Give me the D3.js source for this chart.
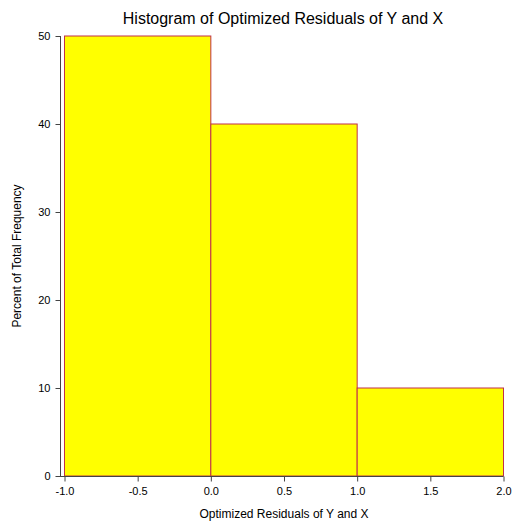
<!DOCTYPE html>
<html>
<head>
<meta charset="utf-8">
<script src="https://cdn.jsdelivr.net/npm/d3@7"></script>
<style>
  body { margin: 0; background: #fff; }
  text { font-family: "Liberation Sans", Arial, sans-serif; fill: #000; }
</style>
</head>
<body>
<div id="vis"></div>
<script>
// bins of the residuals and their percent of total frequency
var binStarts = [-1.0, 0.0, 1.0];
var binEnds = [0.0, 1.0, 2.0];
var percents = [50, 40, 10];
var xTicks = [-1.0, -0.5, 0.0, 0.5, 1.0, 1.5, 2.0];
var yTicks = [0, 10, 20, 30, 40, 50];

var width = 512, height = 523;
var plotLeft = 64.5, plotRight = 503.5, plotTop = 36, plotBottom = 476;

var svg = d3.select('#vis').append('svg')
    .attr('width', width)
    .attr('height', height);

var x = d3.scaleLinear().domain([-1, 2]).range([plotLeft, plotRight]);
var y = d3.scaleLinear().domain([0, 50]).range([plotBottom, plotTop]);

var bins = binStarts.map(function (d, i) {
    return { x0: d, x1: binEnds[i], pct: percents[i] };
});

svg.selectAll('.bar')
    .data(bins)
    .enter().append('rect')
    .attr('class', 'bar')
    .attr('x', function (d) { return x(d.x0); })
    .attr('y', function (d) { return y(d.pct); })
    .attr('width', function (d) { return x(d.x1) - x(d.x0); })
    .attr('height', function (d) { return y(0) - y(d.pct); })
    .attr('fill', '#ffff00')
    .attr('stroke', '#c0304a')
    .attr('stroke-width', 1);

// y axis
var yAxis = svg.append('g')
    .attr('transform', 'translate(60.5,0)')
    .call(d3.axisLeft(y).tickValues(yTicks).tickSize(5).tickPadding(5));

// x axis, labels with a plain hyphen like the original
var fmt = d3.format('.1f');
var xAxis = svg.append('g')
    .attr('transform', 'translate(0,' + (plotBottom + 0.5) + ')')
    .call(d3.axisBottom(x).tickValues(xTicks).tickSize(5).tickPadding(6)
        .tickFormat(function (d) { return fmt(d).replace('\u2212', '-'); }));

xAxis.select('.domain').attr('d', 'M60,0H' + plotRight);

[yAxis, xAxis].forEach(function (g) {
    g.selectAll('path, line').attr('stroke', '#444');
    g.selectAll('text')
        .style('font-family', '"Liberation Sans", Arial, sans-serif')
        .style('font-size', '11px')
        .attr('fill', '#000');
});
yAxis.select('.domain').attr('d', 'M0,' + plotTop + 'V' + (plotBottom + 0.5));

svg.append('text')
    .attr('x', 283)
    .attr('y', 24)
    .attr('text-anchor', 'middle')
    .style('font-size', '16px')
    .text('Histogram of Optimized Residuals of Y and X');

svg.append('text')
    .attr('x', 284)
    .attr('y', 518)
    .attr('text-anchor', 'middle')
    .style('font-size', '12px')
    .text('Optimized Residuals of Y and X');

svg.append('text')
    .attr('transform', 'translate(21,' + ((plotTop + plotBottom) / 2) + ') rotate(-90)')
    .attr('text-anchor', 'middle')
    .style('font-size', '12px')
    .text('Percent of Total Frequency');
</script>
</body>
</html>
